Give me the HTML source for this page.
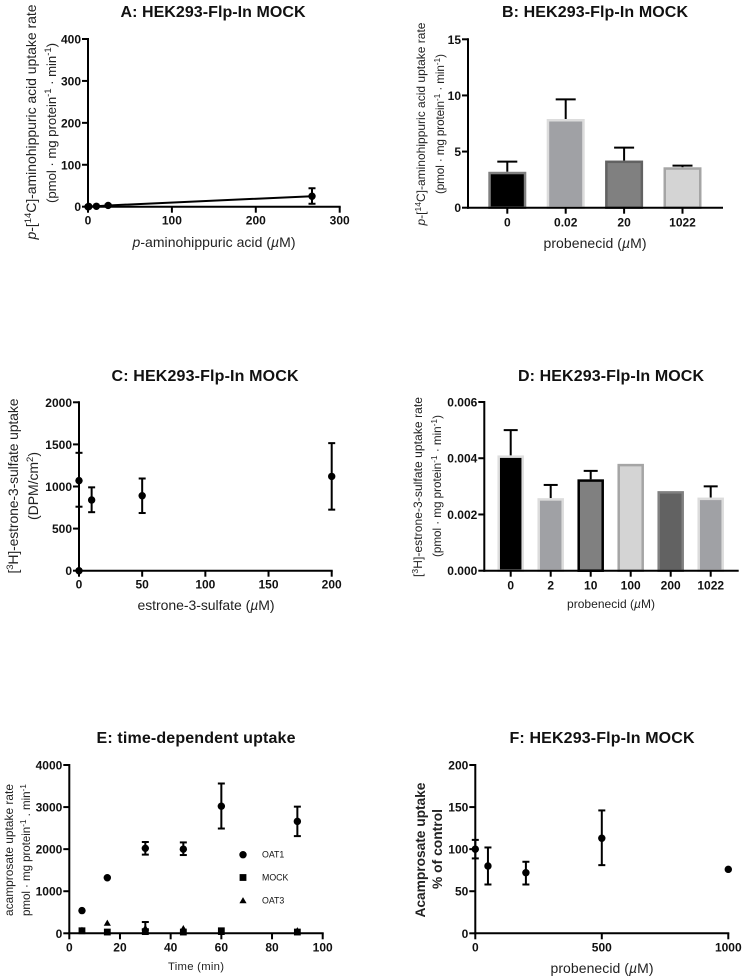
<!DOCTYPE html>
<html lang="en">
<head>
<meta charset="utf-8">
<title>HEK293-Flp-In MOCK uptake charts</title>
<style>
html,body{margin:0;padding:0;background:#fff;}
svg{display:block;}
text{font-family:"Liberation Sans",Arial,sans-serif;fill:#111;}
.title{font-size:16px;font-weight:bold;text-anchor:middle;}
.lab{font-size:14px;text-anchor:middle;fill:#222;}
.tick{font-size:12px;font-weight:bold;}
.sup{font-size:9.5px;}
</style>
</head>
<body>
<svg id="fig" xmlns="http://www.w3.org/2000/svg" width="745" height="979" viewBox="0 0 745 979">
<rect width="745" height="979" fill="#fff"/>

<g id="pa">
<text class="title" x="213" y="17" textLength="185">A: HEK293-Flp-In MOCK</text>
<text class="lab" transform="translate(36,122) rotate(-90)" textLength="235"><tspan font-style="italic">p</tspan>-[<tspan class="sup" dy="-5">14</tspan><tspan dy="5">C]-aminohippuric acid uptake rate</tspan></text>
<text class="lab" style="font-size:13.2px" transform="translate(56,123) rotate(-90)" textLength="160">(pmol · mg protein<tspan class="sup" dy="-5">-1</tspan><tspan dy="5"> · min</tspan><tspan class="sup" dy="-5">-1</tspan><tspan dy="5">)</tspan></text>
<text class="lab" x="214" y="247" textLength="163"><tspan font-style="italic">p</tspan>-aminohippuric acid (<tspan font-style="italic">µ</tspan>M)</text>
</g>

<g id="pb">
<text class="title" x="595" y="17" textLength="186">B: HEK293-Flp-In MOCK</text>
<text class="lab" style="font-size:12px" transform="translate(425,124) rotate(-90)" textLength="203"><tspan font-style="italic">p</tspan>-[<tspan class="sup" dy="-4" style="font-size:8.5px">14</tspan><tspan dy="4">C]-aminohippuric acid uptake rate</tspan></text>
<text class="lab" style="font-size:11.7px" transform="translate(444,124) rotate(-90)" textLength="140">(pmol · mg protein<tspan class="sup" dy="-4" style="font-size:8.5px">-1</tspan><tspan dy="4"> · min</tspan><tspan class="sup" dy="-4" style="font-size:8.5px">-1</tspan><tspan dy="4">)</tspan></text>
<text class="lab" x="595" y="248" textLength="103">probenecid (<tspan font-style="italic">µ</tspan>M)</text>
</g>

<g id="pc">
<text class="title" x="205" y="381" textLength="187">C: HEK293-Flp-In MOCK</text>
<text class="lab" transform="translate(18,486) rotate(-90)" textLength="175">[<tspan class="sup" dy="-5">3</tspan><tspan dy="5">H]-estrone-3-sulfate uptake</tspan></text>
<text class="lab" transform="translate(38,486) rotate(-90)" textLength="68">(DPM/cm<tspan class="sup" dy="-5">2</tspan><tspan dy="5">)</tspan></text>
<text class="lab" x="206" y="610" textLength="137">estrone-3-sulfate (<tspan font-style="italic">µ</tspan>M)</text>
</g>

<g id="pd">
<text class="title" x="611" y="381" textLength="186">D: HEK293-Flp-In MOCK</text>
<text class="lab" style="font-size:12px" transform="translate(422,487) rotate(-90)" textLength="180">[<tspan class="sup" dy="-4" style="font-size:8.5px">3</tspan><tspan dy="4">H]-estrone-3-sulfate uptake rate</tspan></text>
<text class="lab" style="font-size:11.7px" transform="translate(441,486) rotate(-90)" textLength="142">(pmol · mg protein<tspan class="sup" dy="-4" style="font-size:8.5px">-1</tspan><tspan dy="4"> · min</tspan><tspan class="sup" dy="-4" style="font-size:8.5px">-1</tspan><tspan dy="4">)</tspan></text>
<text class="lab" style="font-size:12px" x="611" y="608" textLength="88">probenecid (<tspan font-style="italic">µ</tspan>M)</text>
</g>

<g id="pe">
<text class="title" x="196" y="743" textLength="199">E: time-dependent uptake</text>
<text class="lab" style="font-size:11.9px" transform="translate(13,850) rotate(-90)" textLength="132">acamprosate uptake rate</text>
<text class="lab" style="font-size:11.6px" transform="translate(30,850) rotate(-90)" textLength="132">pmol · mg protein<tspan class="sup" dy="-4" style="font-size:8.5px">-1</tspan><tspan dy="4"> . min</tspan><tspan class="sup" dy="-4" style="font-size:8.5px">-1</tspan></text>
<text class="lab" style="font-size:11.3px" x="196" y="970" textLength="56">Time (min)</text>
</g>

<g id="pf">
<text class="title" x="602" y="743" textLength="185">F: HEK293-Flp-In MOCK</text>
<text class="lab" style="font-weight:bold;font-size:13.8px" transform="translate(425,850) rotate(-90)" textLength="135">Acamprosate uptake</text>
<text class="lab" style="font-weight:bold;font-size:13.8px" transform="translate(442,849) rotate(-90)" textLength="80">% of control</text>
<text class="lab" x="602" y="973" textLength="103">probenecid (<tspan font-style="italic">µ</tspan>M)</text>
</g>
</svg>

<script>
// Panel A
const aXTicks = [0, 100, 200, 300];
const aYTicks = [0, 100, 200, 300, 400];
const aX = [0, 1, 10, 24, 267];
const aY = [0, 0.5, 1, 3, 25];
const aHi = [0, 0.5, 1, 5, 44];
const aLo = [0, 0.5, 1, 1, 7];

// Panel B
const bCats = ['0', '0.02', '20', '1022'];
const bYTicks = [0, 5, 10, 15];
const bVals = [3.2, 7.9, 4.2, 3.6];
const bHi = [4.1, 9.65, 5.35, 3.75];
const bFill = ['#000000', '#a0a1a5', '#808080', '#d4d4d4'];
const bEdge = ['#808080', '#dcdcdc', '#626262', '#a5a5a5'];

// Panel C
const cXTicks = [0, 50, 100, 150, 200];
const cYTicks = [0, 500, 1000, 1500, 2000];
const cX = [0, 0, 10, 50, 200];
const cY = [0, 1070, 840, 890, 1120];
const cHi = [0, 1400, 990, 1095, 1515];
const cLo = [0, 760, 695, 685, 725];

// Panel D
const dCats = ['0', '2', '10', '100', '200', '1022'];
const dYTicks = [0, 0.002, 0.004, 0.006];
const dVals = [0.0041, 0.00258, 0.00325, 0.0038, 0.00283, 0.0026];
const dHi = [0.0050, 0.00305, 0.00355, 0.0038, 0.00283, 0.0030];
const dFill = ['#000000', '#a0a1a5', '#808080', '#d4d4d4', '#626262', '#a0a1a5'];
const dEdge = ['#dedede', '#dcdcdc', '#000000', '#a5a5a5', '#808080', '#dcdcdc'];

// Panel E
const eXTicks = [0, 20, 40, 60, 80, 100];
const eYTicks = [0, 1000, 2000, 3000, 4000];
const eTime = [5, 15, 30, 45, 60, 90];
const eOat1 = [540, 1320, 2020, 2000, 3020, 2660];
const eOat1Hi = [540, 1320, 2170, 2160, 3560, 3010];
const eOat1Lo = [540, 1320, 1870, 1860, 2490, 2310];
const eMock = [60, 30, 40, 30, 60, 30];
const eMockHi = [60, 30, 90, 30, 60, 30];
const eMockLo = [60, 30, 0, 30, 60, 30];
const eOat3 = [80, 250, 130, 120, 30, 70];
const eOat3Hi = [80, 250, 268, 120, 30, 70];
const eOat3Lo = [80, 250, 0, 120, 30, 70];
const eLegend = ['OAT1', 'MOCK', 'OAT3'];

// Panel F
const fXTicks = [0, 500, 1000];
const fYTicks = [0, 50, 100, 150, 200];
const fX = [0, 50, 200, 500, 1000];
const fY = [100, 80, 72, 113, 76];
const fHi = [111, 102, 85, 146, 76];
const fLo = [89, 58, 58, 81, 76];

const NS = 'http://www.w3.org/2000/svg';
function make(tag, parent, props) {
  const el = document.createElementNS(NS, tag);
  for (const k in props) el.setAttribute(k, props[k]);
  parent.appendChild(el);
  
  return el;
}
function stroke(parent, x1, y1, x2, y2, w, c) {
  return make('line', parent, {x1: x1, y1: y1, x2: x2, y2: y2, stroke: c || '#000', 'stroke-width': w});
}
function linear(d0, d1, r0, r1) {
  return function (v) { return r0 + (v - d0) / (d1 - d0) * (r1 - r0); };
}
function label(parent, x, y, anchor, str) {
  const t = make('text', parent, {x: x, y: y, 'text-anchor': anchor, 'class': 'tick'});
  t.textContent = str;
  return t;
}
function drawYAxis(g, sy, x0, ticks, fmt) {
  const axis = stroke(g, x0, sy(ticks[0]) + 1, x0, sy(ticks[ticks.length - 1]) - 1, 2);
  
  ticks.forEach(function (v) {
    const tk = stroke(g, x0 - 6, sy(v), x0, sy(v), 2);
    
    const t = label(g, x0 - 7, sy(v) + 4.5, 'end', fmt ? fmt(v) : String(v));
    
  });
}
function drawXBase(g, x0, x1, y0) {
  const axis = stroke(g, x0 - 1, y0, x1 + 1, y0, 2);
  
}
function drawXTicks(g, sx, y0, ticks) {
  ticks.forEach(function (v) {
    const tk = stroke(g, sx(v), y0, sx(v), y0 + 6, 2);
    
    const t = label(g, sx(v), y0 + 18, 'middle', String(v));
    
  });
}
function drawErr(g, x, yHi, yLo, cap) {
  if (Math.abs(yHi - yLo) < 0.5) return;
  const stem = stroke(g, x, yHi, x, yLo, 2);
  
  const top = stroke(g, x - cap / 2, yHi, x + cap / 2, yHi, 2);
  
  const bot = stroke(g, x - cap / 2, yLo, x + cap / 2, yLo, 2);
  
}
function drawCircle(g, x, y) {
  const c = make('circle', g, {cx: x, cy: y, r: 3.7, fill: '#000'});
  
}
function drawSquare(g, x, y) {
  const s = make('rect', g, {x: x - 3.4, y: y - 3.4, width: 6.8, height: 6.8, fill: '#000'});
  
}
function drawTriangle(g, x, y) {
  const p = make('polygon', g, {points: (x - 3.6) + ',' + (y + 3) + ' ' + (x + 3.6) + ',' + (y + 3) + ' ' + x + ',' + (y - 3.2), fill: '#000'});
  
}
function drawBars(g, sy, x0, x1, first, step, barW, cap, cats, vals, hi, fill, edge) {
  const y0 = sy(0);
  vals.forEach(function (v, i) {
    const cx = x0 + first + i * step;
    if (hi[i] > v) {
      const stem = stroke(g, cx, sy(hi[i]), cx, sy(v), 2);
      
      const top = stroke(g, cx - cap / 2, sy(hi[i]), cx + cap / 2, sy(hi[i]), 2);
      
    }
    const b = make('rect', g, {x: cx - barW / 2 + 1.25, y: sy(v) + 1.25, width: barW - 2.5, height: y0 - sy(v) - 1.25, fill: fill[i], stroke: edge[i], 'stroke-width': 2.5});
    
    const tk = stroke(g, cx, y0, cx, y0 + 6, 2);
    
    const t = label(g, cx, y0 + 19, 'middle', cats[i]);
    
  });
}

// Draw panel A
(function () {
  const g = document.getElementById('pa');
  const sx = linear(0, 300, 88, 339.7), sy = linear(0, 400, 206.7, 39);
  drawYAxis(g, sy, 88, aYTicks);
  drawXBase(g, 88, 339.7, 206.7);
  drawXTicks(g, sx, 206.7, aXTicks);
  const pts = aX.map(function (x, i) { return sx(x) + ',' + sy(aY[i]); }).join(' ');
  const series = make('polyline', g, {points: pts, fill: 'none', stroke: '#000', 'stroke-width': 2});
  
  aX.forEach(function (x, i) {
    drawErr(g, sx(x), sy(aHi[i]), sy(aLo[i]), 7);
    drawCircle(g, sx(x), sy(aY[i]));
  });
})();

// Draw panel B
(function () {
  const g = document.getElementById('pb');
  const sy = linear(0, 15, 207.7, 39.3);
  drawBars(g, sy, 468, 722, 39.3, 58.4, 38, 20, bCats, bVals, bHi, bFill, bEdge);
  drawYAxis(g, sy, 468, bYTicks);
  drawXBase(g, 468, 722, 207.7);
})();

// Draw panel C
(function () {
  const g = document.getElementById('pc');
  const sx = linear(0, 200, 79, 331.7), sy = linear(0, 2000, 570.7, 402.3);
  drawYAxis(g, sy, 79, cYTicks);
  drawXBase(g, 79, 331.7, 570.7);
  drawXTicks(g, sx, 570.7, cXTicks);
  cX.forEach(function (x, i) {
    drawErr(g, sx(x), sy(cHi[i]), sy(cLo[i]), 7);
    drawCircle(g, sx(x), sy(cY[i]));
  });
})();

// Draw panel D
(function () {
  const g = document.getElementById('pd');
  const sy = linear(0, 0.006, 570.7, 402);
  drawBars(g, sy, 484.3, 737.7, 26.4, 40, 26.5, 14, dCats, dVals, dHi, dFill, dEdge);
  drawYAxis(g, sy, 484.3, dYTicks, function (v) { return v.toFixed(3); });
  drawXBase(g, 484.3, 737.7, 570.7);
})();

// Draw panel E
(function () {
  const g = document.getElementById('pe');
  const sx = linear(0, 100, 69.3, 322.7), sy = linear(0, 4000, 933.3, 765);
  drawYAxis(g, sy, 69.3, eYTicks);
  drawXBase(g, 69.3, 322.7, 933.3);
  drawXTicks(g, sx, 933.3, eXTicks);
  eTime.forEach(function (t, i) {
    drawErr(g, sx(t), sy(eOat3Hi[i]), sy(eOat3Lo[i]), 7);
    drawTriangle(g, sx(t), sy(eOat3[i]));
    drawErr(g, sx(t), sy(eMockHi[i]), sy(eMockLo[i]), 7);
    drawSquare(g, sx(t), sy(eMock[i]));
    drawErr(g, sx(t), sy(eOat1Hi[i]), sy(eOat1Lo[i]), 7);
    drawCircle(g, sx(t), sy(eOat1[i]));
  });
  const drawers = [drawCircle, drawSquare, drawTriangle];
  eLegend.forEach(function (name, i) {
    const ly = 854.7 + i * 22.8;
    drawers[i](g, 243, ly);
    const t = make('text', g, {x: 262, y: ly + 3, 'font-size': 8.8, fill: '#222'});
    t.textContent = name;
    
  });
})();

// Draw panel F
(function () {
  const g = document.getElementById('pf');
  const sx = linear(0, 1000, 475.3, 728.3), sy = linear(0, 200, 933.3, 765);
  drawYAxis(g, sy, 475.3, fYTicks);
  drawXBase(g, 475.3, 728.3, 933.3);
  drawXTicks(g, sx, 933.3, fXTicks);
  fX.forEach(function (x, i) {
    drawErr(g, sx(x), sy(fHi[i]), sy(fLo[i]), 7);
    drawCircle(g, sx(x), sy(fY[i]));
  });
})();
</script>
</body>
</html>
